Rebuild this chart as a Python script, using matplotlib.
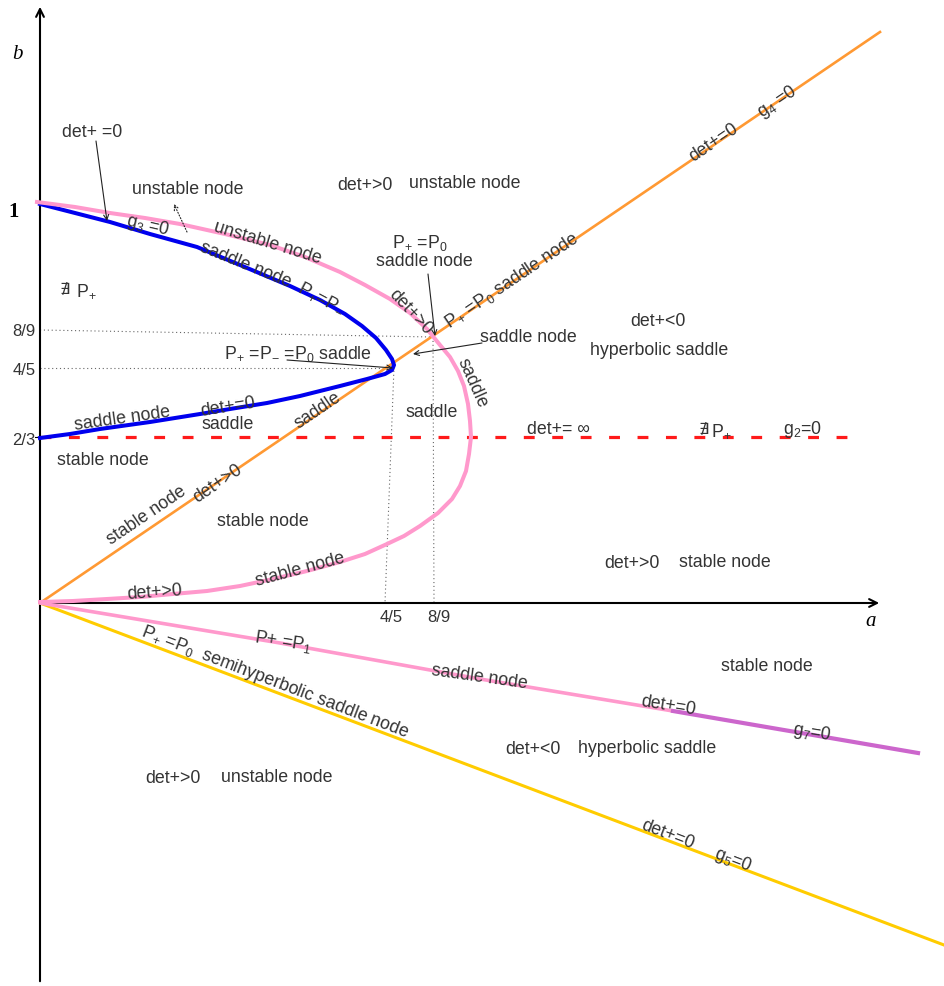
import matplotlib.pyplot as plt

plt.rcParams['font.family'] = ['Liberation Sans', 'DejaVu Sans']
plt.rcParams['mathtext.fontset'] = 'custom'
plt.rcParams['mathtext.rm'] = 'Liberation Sans'
plt.rcParams['mathtext.it'] = 'Liberation Sans:italic'

# schematic (a, b) diagram, coordinates (origin at the corner)
pink_up_x = [-3, 35, 70, 105, 140, 185, 230, 265, 300, 325, 350, 370, 387, 400, 410, 418, 424,
             428, 430, 431, 429, 426, 420, 412, 398, 380, 364, 347, 325, 300, 267, 233, 200,
             167, 133, 100, 67, 33, 0]
pink_up_y = [401, 396, 390, 385, 379, 369, 358, 346, 331, 318, 304, 290, 274, 258, 246, 232, 217,
             199, 182, 166, 149, 132, 117, 104, 90, 77, 67, 59, 49, 41, 32, 24, 17,
             12, 9, 6, 4, 2, 1]

blue_x = [0, 35, 70, 110, 157, 200, 250, 280, 305, 322, 336, 346, 352, 354, 352, 345, 327,
          300, 260, 227, 190, 160, 110, 60, 30, 0]
blue_y = [399, 390, 381, 369, 356, 338, 317, 303, 289, 277, 265, 253, 244, 238, 233, 229, 224,
          217, 207, 200, 194, 189, 181, 174, 169, 165]

orange_x = [0, 840]
orange_y = [0, 571]

yellow_x = [0, 904]
yellow_y = [0, -342]

pink_low_x = [0, 240, 440, 633]
pink_low_y = [0, -40, -76, -108]
purple_x = [633, 878]
purple_y = [-108, -150]

red_x = [0, 808]
red_y = [166, 166]

ytick_pos = [400, 273, 234, 166]
ytick_lab = ['1', '8/9', '4/5', '2/3']
xtick_pos = [345, 393]
xtick_lab = ['4/5', '8/9']

PP = r'$\mathrm{P}_{+}$'
PM = r'$\mathrm{P}_{-}$'
P0 = r'$\mathrm{P}_{0}$'


def P(px, py):
    return px - 40, 604 - py


fig = plt.figure(figsize=(9.44, 9.87), dpi=100)
ax = fig.add_axes([0, 0, 1, 1])
ax.set_xlim(-40, 904)
ax.set_ylim(-383, 604)
ax.axis('off')

tc = '#333333'
fs = 12.8

# axes with arrows
ax.annotate('', xy=(0, 599), xytext=(0, -381),
            arrowprops=dict(arrowstyle='->', lw=1.5, color='black', mutation_scale=14))
ax.annotate('', xy=(842, 0), xytext=(0, 0),
            arrowprops=dict(arrowstyle='->', lw=1.5, color='black', mutation_scale=14))
ax.text(*P(17, 55), 'b', family='Liberation Serif', style='italic', fontsize=15, ha='center', va='center')
ax.text(*P(871, 622), 'a', family='Liberation Serif', style='italic', fontsize=15, ha='center', va='center')

# guide lines
dot = dict(color='#666666', lw=0.8, ls=(0, (1, 2.5)))
ax.plot([0, 393], [273, 266], **dot)
ax.plot([0, 354], [235, 235], **dot)
ax.plot([354, 345], [236, 0], **dot)
ax.plot([393, 394], [266, 0], **dot)

# curves
ax.plot(red_x, red_y, color='#ff1a1a', lw=2.3, dashes=(3.4, 5.5), zorder=2)
ax.plot(orange_x, orange_y, color='#ff9933', lw=1.9, zorder=3)
ax.plot(yellow_x, yellow_y, color='#ffcc00', lw=2.2, zorder=3)
ax.plot(pink_low_x, pink_low_y, color='#ff99cc', lw=2.6, zorder=3, solid_capstyle='round')
ax.plot(purple_x, purple_y, color='#cc66cc', lw=3.0, zorder=3)
ax.plot(blue_x, blue_y, color='#0000ee', lw=2.9, zorder=4, solid_joinstyle='round')
ax.plot(pink_up_x, pink_up_y, color='#ff99cc', lw=2.9, zorder=4, solid_joinstyle='round')

# tick labels
for pos, lab in zip(ytick_pos, ytick_lab):
    if lab == '1':
        ax.text(-26, pos - 8, lab, family='Liberation Serif', weight='bold', fontsize=15,
                ha='center', va='center')
    else:
        ax.text(-16, pos - 1 if lab != '2/3' else pos - 3, lab, fontsize=12, color=tc,
                ha='center', va='center')
ax.plot([-5, 0], [166, 166], color='black', lw=0.8)
for pos, lab in zip(xtick_pos, xtick_lab):
    ax.text(pos + 6, -14, lab, fontsize=12, color=tc, ha='center', va='center')

labels = [
    ((92, 133), 'det+ =0', 0),
    ((188, 190), 'unstable node', 0),
    ((148, 226), 'g$_3$ =0', -13),
    ((268, 243), 'unstable node', -17),
    ((246, 265), 'saddle node', -22),
    ((322, 298), PP + '=' + PM, -28),
    ((86, 291), PP, 0),
    ((365, 186), 'det+>0', 0),
    ((465, 184), 'unstable node', 0),
    ((420, 243), PP + ' =' + P0, 0),
    ((424, 262), 'saddle node', 0),
    ((410, 312), 'det+>0', -47),
    ((512, 281), PP + ' =' + P0 + ' saddle node', 34),
    ((528, 338), 'saddle node', 0),
    ((298, 354), PP + ' =' + PM + ' =' + P0 + ' saddle', 0),
    ((658, 322), 'det+<0', 0),
    ((659, 351), 'hyperbolic saddle', 0),
    ((472, 383), 'saddle', -66),
    ((432, 413), 'saddle', 0),
    ((558, 430), 'det+= ∞', 0),
    ((721, 431), PP, 0),
    ((803, 430), 'g$_2$=0', 0),
    ((122, 419), 'saddle node', 8),
    ((228, 407), 'det+=0', 9),
    ((228, 425), 'saddle', 0),
    ((318, 411), 'saddle', 34),
    ((103, 461), 'stable node', 0),
    ((147, 516), 'stable node', 34),
    ((218, 484), 'det+>0', 34),
    ((263, 522), 'stable node', 0),
    ((300, 570), 'stable node', 15),
    ((155, 593), 'det+>0', 4),
    ((632, 564), 'det+>0', 0),
    ((725, 563), 'stable node', 0),
    ((283, 642), 'P+ =P$_1$', -9),
    ((480, 677), 'saddle node', -8),
    ((767, 667), 'stable node', 0),
    ((275, 682), PP + ' =' + P0 + '  semihyperbolic saddle node', -21),
    ((668, 706), 'det+=0', -9),
    ((812, 733), 'g$_7$=0', -9),
    ((533, 750), 'det+<0', 0),
    ((647, 749), 'hyperbolic saddle', 0),
    ((173, 779), 'det+>0', 0),
    ((277, 778), 'unstable node', 0),
    ((668, 835), 'det+=0', -21),
    ((733, 860), 'g$_5$=0', -21),
    ((714, 143), 'det+=0', 34),
    ((777, 102), 'g$_4$ =0', 34),
]
for (px, py), txt, rot in labels:
    ax.text(*P(px, py), txt, fontsize=fs, color=tc, rotation=rot,
            ha='center', va='center', rotation_mode='anchor', zorder=6)

# "does not exist" signs, plain text so the glyph falls back to DejaVu
for px, py in [(65, 290), (704, 430)]:
    ax.text(*P(px, py), '∄', fontsize=fs - 1, color=tc, ha='center', va='center', zorder=6)

# pointer arrows
arrows = [
    ((96, 142), (107, 222), '-'),
    ((428, 275), (435, 337), '-'),
    ((482, 344), (413, 355), '-'),
    ((287, 361), (393, 369), '-'),
    ((187, 233), (174, 205), ':'),
]
for start, end, ls in arrows:
    ax.annotate('', xy=P(*end), xytext=P(*start),
                arrowprops=dict(arrowstyle='->', lw=0.8, color='#222222', ls=ls,
                                mutation_scale=9, shrinkA=0, shrinkB=0), zorder=7)

fig.savefig('out.png', dpi=100)
